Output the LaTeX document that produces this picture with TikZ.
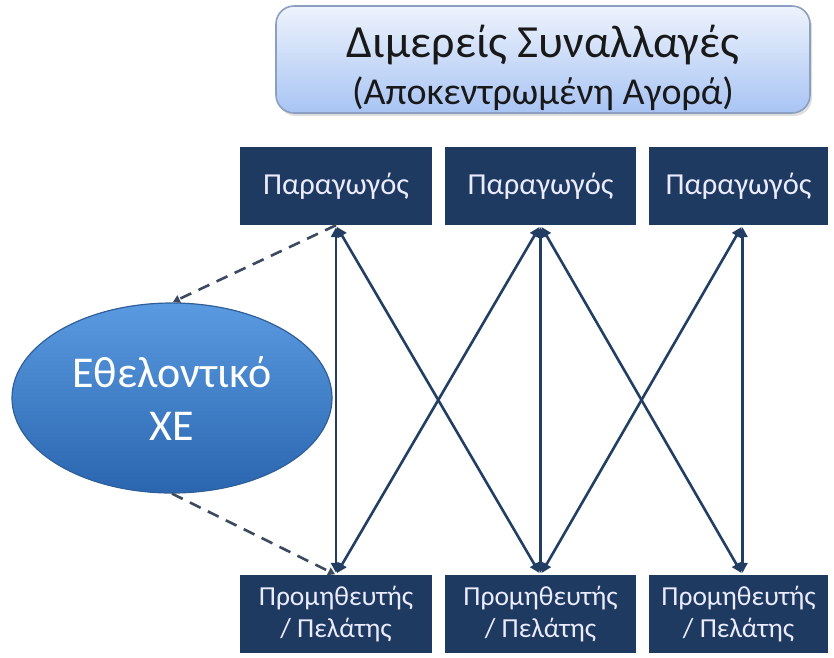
\documentclass[tikz,border=0pt]{standalone}
\usepackage{fontspec}
\setmainfont{Carlito}
\usetikzlibrary{arrows.meta,shapes.geometric,shadows}

\definecolor{boxnavy}{HTML}{1F3A60}
\definecolor{linknavy}{HTML}{233E63}
\definecolor{dashgray}{HTML}{3B4A60}
\definecolor{titletop}{HTML}{EEF3FC}
\definecolor{titlebot}{HTML}{A8C4F4}
\definecolor{titleedge}{HTML}{8C9FC0}
\definecolor{ovaltop}{HTML}{5A9AE0}
\definecolor{ovalbot}{HTML}{2A66B0}
\definecolor{ovaledge}{HTML}{2F5F98}

\tikzset{
  titlebox/.style={rectangle, rounded corners=18pt, draw=titleedge, line width=1.6pt,
    top color=titletop, bottom color=titlebot, minimum width=534pt, minimum height=107pt,
    inner sep=0pt, drop shadow={opacity=0.25, shadow xshift=2pt, shadow yshift=-3pt}},
  titletext/.style={inner sep=0pt, align=center, text=black!90},
  rolebox/.style={rectangle, fill=boxnavy, text=white!92!blue, minimum height=78pt,
    inner sep=0pt, align=center, font=\fontsize{30.5}{33}\selectfont},
  clientbox/.style={rolebox, font=\fontsize{27.5}{32}\selectfont},
  oval/.style={ellipse, draw=ovaledge, line width=1.2pt, top color=ovaltop, bottom color=ovalbot,
    minimum width=320pt, minimum height=190pt, inner sep=0pt, align=center, text=white,
    font=\fontsize{44}{53}\selectfont},
  link/.style={draw=linknavy, line width=2.6pt, {Triangle[length=10pt,width=10pt]}-{Triangle[length=10pt,width=10pt]},
    shorten <=2pt, shorten >=2pt},
  dashlink/.style={draw=dashgray, line width=2.6pt, dash pattern=on 12pt off 8pt,
    -{Triangle[length=7pt,width=8pt]}, shorten >=1pt}
}

\begin{document}
\begin{tikzpicture}[x=1pt, y=-1pt]
\useasboundingbox (0,0) rectangle (834,657);

% heading
\node[titlebox] (title) at (543,59.5) {};
\node[titletext] (titlelabel) at (543,68)
  {{\fontsize{46}{48}\selectfont Διμερείς Συναλλαγές}\\[11pt]
   {\fontsize{38}{40}\selectfont (Αποκεντρωμένη Αγορά)}};

% producers
\node[rolebox, minimum width=192pt] (p1) at (336,186) {Παραγωγός};
\node[rolebox, minimum width=191pt] (p2) at (540.5,186) {Παραγωγός};
\node[rolebox, minimum width=179pt] (p3) at (738.5,186) {Παραγωγός};

% suppliers / customers
\node[clientbox, minimum width=192pt] (c1) at (336,614) {Προμηθευτής\\/ Πελάτης};
\node[clientbox, minimum width=191pt] (c2) at (540.5,614) {Προμηθευτής\\/ Πελάτης};
\node[clientbox, minimum width=179pt] (c3) at (738.5,614) {Προμηθευτής\\/ Πελάτης};

% voluntary exchange
\node[oval] (xe) at (172,398) {Εθελοντικό\\ΧΕ};

% bilateral links
\draw[link] (p1.south) -- (c1.north);
\draw[link] (p2.south) -- (c2.north);
\draw[link] ([xshift=4pt]p3.south) -- ([xshift=4pt]c3.north);
\draw[link] (p1.south) -- (c2.north);
\draw[link] (p2.south) -- (c1.north);
\draw[link] (p2.south) -- ([xshift=4pt]c3.north);
\draw[link] ([xshift=4pt]p3.south) -- (c2.north);

% links through the exchange
\draw[dashlink] (p1.south) -- (xe.north);
\draw[dashlink] (xe.south) -- (c1.north);
\end{tikzpicture}
\end{document}
